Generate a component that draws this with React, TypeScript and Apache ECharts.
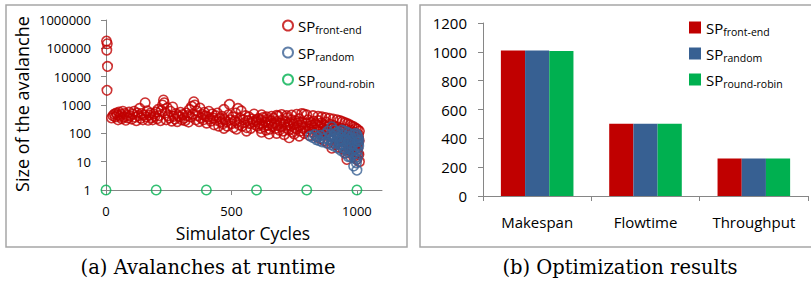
import React, { useEffect, useRef } from "react";
import * as echarts from "echarts";

// ---------- data ----------
const seriesKeys = ["front-end", "random", "round-robin"];

const frontEndEarly: [number, number][] = [
  [2, 180000], [5, 145000], [3, 86000], [6, 23000], [4, 3300],
];

const frontEndMid: [number, number][] = [
  [22, 350], [28, 420], [33, 480], [37, 380], [41, 520], [45, 450], [48, 300], [52, 560], [56, 400], [60, 470],
  [63, 330], [67, 600], [71, 380], [75, 500], [79, 290], [84, 430], [88, 350], [92, 560], [97, 410], [102, 320],
  [107, 480], [112, 600], [116, 370], [121, 280], [125, 520], [129, 420], [134, 760], [138, 340], [142, 500], [147, 300],
  [151, 450], [156, 1200], [160, 380], [164, 620], [168, 290], [173, 440], [177, 520], [181, 360], [186, 300], [190, 480],
  [195, 400], [199, 560], [204, 330], [208, 700], [212, 420], [217, 280], [221, 650], [225, 1000], [229, 1500], [232, 1200],
  [236, 520], [240, 300], [244, 800], [248, 420], [253, 350], [257, 600], [262, 270], [266, 850], [270, 400], [275, 320],
  [279, 500], [284, 260], [288, 420], [293, 380], [297, 550], [302, 300], [306, 460], [311, 340], [315, 280], [320, 520],
  [324, 420], [329, 250], [333, 700], [337, 380], [342, 900], [346, 480], [350, 1300], [354, 1000], [358, 300], [362, 620],
  [366, 420], [371, 260], [375, 780], [379, 350], [384, 460], [388, 300], [392, 550], [397, 410], [401, 230], [405, 380],
  [410, 600], [414, 320], [418, 270], [423, 480], [427, 350], [431, 200], [436, 420], [440, 290], [444, 520], [449, 180],
  [453, 330], [457, 250], [462, 400], [466, 220], [470, 700], [475, 300], [479, 260], [483, 180], [488, 450], [492, 1050],
  [496, 300], [500, 220], [505, 380], [509, 160], [513, 280], [517, 520], [522, 240], [526, 760], [530, 200], [535, 340],
  [539, 620], [543, 180], [548, 300], [552, 240], [556, 420], [560, 160], [565, 280], [569, 380], [573, 220], [577, 150],
  [582, 320], [586, 260], [590, 480], [594, 200], [599, 300],
];

const frontEndLate: [number, number][] = [
  [601, 260], [604, 180], [608, 330], [612, 210], [615, 150], [619, 290], [623, 200], [626, 360], [630, 170], [634, 250],
  [638, 130], [642, 310], [645, 190], [649, 240], [653, 140], [657, 280], [660, 210], [664, 170], [668, 340], [672, 230],
  [676, 150], [680, 260], [683, 190], [687, 410], [691, 130], [695, 230], [698, 170], [702, 290], [706, 120], [710, 210],
  [714, 260], [717, 160], [721, 350], [725, 200], [729, 130], [732, 240], [736, 180], [740, 300], [744, 110], [748, 210],
  [751, 160], [755, 270], [759, 140], [763, 230], [767, 190], [770, 330], [774, 120], [778, 200], [782, 250], [786, 150],
  [789, 480], [793, 170], [797, 230], [801, 120], [805, 300], [808, 180], [812, 140], [816, 240], [820, 190], [824, 110],
  [827, 270], [831, 160], [835, 220], [839, 130], [843, 190], [846, 280], [850, 120], [854, 170], [858, 230], [862, 90],
  [865, 150], [869, 200], [873, 130], [877, 250], [881, 100], [884, 170], [888, 140], [892, 210], [896, 80], [900, 160],
  [903, 120], [907, 190], [911, 70], [915, 140], [918, 100], [922, 170], [926, 50], [930, 130], [934, 90], [937, 150],
  [941, 60], [945, 120], [949, 35], [952, 100], [956, 140], [960, 45], [964, 110], [968, 80], [971, 25], [975, 130],
  [979, 60], [983, 95], [987, 15], [990, 110], [994, 40], [998, 75], [1000, 12], [1002, 140], [1004, 30], [1006, 90],
  [1008, 18], [1009, 55], [1010, 10], [1010, 120], [1007, 65], [1003, 45], [999, 22], [995, 150], [988, 170], [980, 180],
  [972, 200], [962, 220], [952, 240], [942, 260], [932, 280], [920, 300], [905, 320], [890, 340], [875, 360], [860, 380],
  [845, 400], [825, 420], [800, 450], [780, 500], [760, 470], [740, 440], [720, 420], [700, 460], [680, 430], [660, 400],
  [640, 380], [620, 450], [955, 20], [945, 28], [930, 32], [915, 40], [900, 30], [885, 45], [870, 55], [855, 65],
  [840, 75], [960, 12], [975, 35], [985, 50], [992, 28], [1005, 20], [710, 90], [730, 70], [750, 95], [770, 80],
  [790, 100], [810, 85], [620, 110], [650, 95], [680, 100], [560, 120], [520, 140], [470, 150],
];

const randomPoints: [number, number][] = [
  [815, 80], [826, 70], [832, 90], [838, 60], [844, 75], [850, 55], [856, 85], [862, 50], [868, 65], [874, 95],
  [880, 45], [884, 120], [888, 60], [892, 75], [896, 40], [900, 170], [903, 55], [906, 80], [909, 35], [912, 65],
  [915, 100], [918, 45], [921, 70], [924, 30], [927, 85], [930, 50], [933, 60], [936, 25], [939, 75], [942, 40],
  [945, 90], [948, 55], [951, 20], [954, 65], [957, 35], [960, 80], [963, 45], [966, 15], [969, 60], [972, 30],
  [975, 70], [978, 40], [981, 55], [984, 18], [987, 7], [990, 45], [993, 65], [996, 30], [998, 12], [1000, 5],
  [1001, 50], [1002, 80], [1003, 25], [1004, 60], [1005, 40], [1006, 70], [1007, 35], [1008, 55], [970, 100], [960, 110],
  [950, 120], [940, 130], [985, 90], [995, 100], [1000, 90], [990, 20], [980, 25], [975, 15], [965, 22], [955, 28],
  [945, 30], [935, 40], [925, 110], [910, 130], [895, 90], [905, 45], [1003, 15], [998, 9], [992, 13],
];

const roundRobinPoints: [number, number][] = [
  [0, 1], [200, 1], [400, 1], [600, 1], [800, 1], [1000, 1],
];

const leftXTicks = [0, 500, 1000];

const barCategories = ["Makespan", "Flowtime", "Throughput"];
const frontEndBars = [1010, 502, 260];
const randomBars = [1010, 502, 260];
const roundRobinBars = [1005, 502, 260];

// ---------- styles ----------
const RED = "#C00000";
const BLUE = "#3A6094";
const BLUE_BAR = "#376092";
const GREEN = "#00B050";
const AXIS = "#868686";
const FONT = '"Open Sans", sans-serif';
const SERIF = '"DejaVu Serif", serif';

const legendRich = {
  a: { fontSize: 15, lineHeight: 20, fontFamily: FONT, color: "#000" },
  b: { fontSize: 10.5, lineHeight: 12, verticalAlign: "bottom", fontFamily: FONT, color: "#000" },
};

const legendFormatter = (name: string) => `{a|SP}{b|${name.slice(2)}}`;

export default function App() {
  const ref = useRef<HTMLDivElement>(null);

  useEffect(() => {
    if (!ref.current) return;
    const chart = echarts.init(ref.current, undefined, { renderer: "svg" });
    const scatterColors = [RED, BLUE, GREEN];
    const barColors = [RED, BLUE_BAR, GREEN];
    const scatterData = [
      [...frontEndEarly, ...frontEndMid, ...frontEndLate],
      randomPoints,
      roundRobinPoints,
    ];
    const barData = [frontEndBars, randomBars, roundRobinBars];

    const axisLineStyle = { color: AXIS, width: 1 };

    chart.setOption({
      animation: false,
      backgroundColor: "#fff",
      grid: [
        { left: 106, top: 20, width: 276, height: 170 },
        { left: 483, top: 23, width: 325, height: 173 },
      ],
      xAxis: [
        {
          gridIndex: 0,
          type: "value",
          min: 0,
          max: 1100,
          interval: 500,
          axisLine: { show: true, onZero: false, lineStyle: axisLineStyle },
          axisTick: { show: true, length: 5, customValues: leftXTicks, lineStyle: axisLineStyle },
          axisLabel: {
            customValues: leftXTicks,
            margin: 14,
            fontSize: 13,
            fontFamily: FONT,
            color: "#000",
            formatter: (v: number) => String(v),
          },
          splitLine: { show: false },
        },
        {
          gridIndex: 1,
          type: "category",
          data: barCategories,
          axisLine: { show: true, lineStyle: axisLineStyle },
          axisTick: { show: true, alignWithLabel: false, length: 5, lineStyle: axisLineStyle },
          axisLabel: { margin: 18, fontSize: 15, fontFamily: FONT, color: "#000" },
          splitLine: { show: false },
        },
      ],
      yAxis: [
        {
          gridIndex: 0,
          type: "log",
          logBase: 10,
          min: 1,
          max: 1000000,
          axisLine: { show: true, lineStyle: axisLineStyle },
          axisTick: { show: true, length: 5, lineStyle: axisLineStyle },
          axisLabel: {
            margin: 15,
            fontSize: 13,
            fontFamily: FONT,
            color: "#000",
            formatter: (v: number) => String(Math.round(v)),
          },
          splitLine: { show: false },
        },
        {
          gridIndex: 1,
          type: "value",
          min: 0,
          max: 1200,
          interval: 200,
          axisLine: { show: true, lineStyle: axisLineStyle },
          axisTick: { show: true, length: 5, lineStyle: axisLineStyle },
          axisLabel: {
            margin: 16,
            fontSize: 15,
            fontFamily: FONT,
            color: "#000",
            formatter: (v: number) => String(v),
          },
          splitLine: { show: false },
        },
      ],
      legend: [
        {
          data: seriesKeys.map((k) => "a:" + k),
          orient: "vertical",
          left: 282,
          top: 18,
          padding: 0,
          itemGap: 9.5,
          itemWidth: 10,
          itemHeight: 10,
          formatter: legendFormatter,
          textStyle: { rich: legendRich },
          selectedMode: false,
        },
        {
          data: seriesKeys.map((k) => "b:" + k),
          orient: "vertical",
          left: 689,
          top: 20,
          padding: 0,
          itemGap: 8.5,
          itemWidth: 12,
          itemHeight: 12,
          icon: "rect",
          formatter: legendFormatter,
          textStyle: { rich: legendRich },
          selectedMode: false,
        },
      ],
      series: [
        ...seriesKeys.map((k, i) => ({
          name: "a:" + k,
          type: "scatter",
          xAxisIndex: 0,
          yAxisIndex: 0,
          symbol: "circle",
          symbolSize: 9.5,
          data: scatterData[i],
          itemStyle: { color: "rgba(255,255,255,0)", borderColor: scatterColors[i], borderWidth: 1.6 },
        })),
        ...seriesKeys.map((k, i) => ({
          name: "b:" + k,
          type: "bar",
          xAxisIndex: 1,
          yAxisIndex: 1,
          barGap: "0%",
          barCategoryGap: "33%",
          data: barData[i],
          itemStyle: { color: barColors[i] },
        })),
      ],
      graphic: [
        {
          type: "rect",
          z: -10,
          shape: { x: 6, y: 5, width: 401, height: 242 },
          style: { fill: "none", stroke: "#A6A6A6", lineWidth: 1.5 },
        },
        {
          type: "rect",
          z: -10,
          shape: { x: 420, y: 5, width: 400, height: 242 },
          style: { fill: "none", stroke: "#A6A6A6", lineWidth: 1.5 },
        },
        {
          type: "text",
          x: 22,
          y: 104,
          rotation: Math.PI / 2,
          style: {
            text: "Size of the avalanche",
            font: `18px ${FONT}`,
            textAlign: "center",
            textVerticalAlign: "middle",
            fill: "#000",
          },
        },
        {
          type: "text",
          x: 243,
          y: 233,
          style: {
            text: "Simulator Cycles",
            font: `17.5px ${FONT}`,
            textAlign: "center",
            textVerticalAlign: "middle",
            fill: "#000",
          },
        },
        {
          type: "text",
          x: 208,
          y: 267,
          style: {
            text: "(a) Avalanches at runtime",
            font: `19.5px ${SERIF}`,
            textAlign: "center",
            textVerticalAlign: "middle",
            fill: "#000",
          },
        },
        {
          type: "text",
          x: 620,
          y: 267,
          style: {
            text: "(b) Optimization results",
            font: `19.5px ${SERIF}`,
            textAlign: "center",
            textVerticalAlign: "middle",
            fill: "#000",
          },
        },
      ],
    });

    return () => chart.dispose();
  }, []);

  return (
    <div
      ref={ref}
      style={{ position: "absolute", left: 0, top: 0, width: 811, height: 282, background: "#fff" }}
    />
  );
}
